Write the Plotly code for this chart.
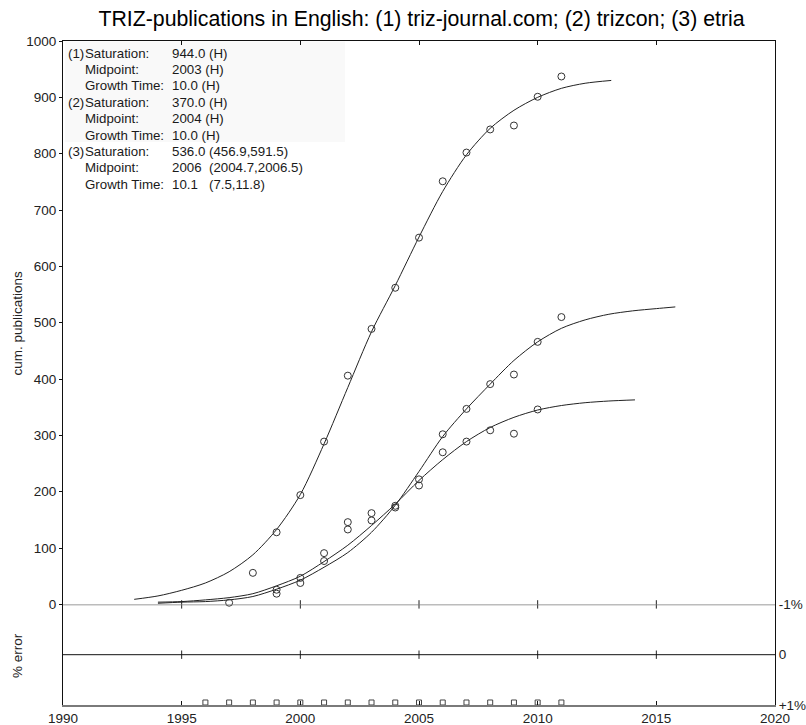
import plotly.graph_objects as go

# ---------------- data ----------------
# observed cumulative publications
s1_years = [1998, 1999, 2000, 2001, 2002, 2003, 2004, 2005, 2006, 2007, 2008, 2009, 2010, 2011]
s1_vals = [56, 128, 194, 289, 406, 489, 562, 651, 751, 802, 843, 850, 901, 937]

s2_years = [1997, 1999, 2000, 2001, 2002, 2003, 2004, 2005, 2006, 2007, 2008, 2009, 2010]
s2_vals = [3, 19, 38, 77, 133, 149, 172, 211, 270, 289, 309, 303, 346]

s3_years = [1999, 2000, 2001, 2002, 2003, 2004, 2005, 2006, 2007, 2008, 2009, 2010, 2011]
s3_vals = [26, 47, 91, 146, 162, 175, 222, 302, 347, 391, 408, 466, 510]

# fitted curves
c1_years = [1993, 1994, 1995, 1996, 1997, 1998, 1999, 2000, 2001, 2002, 2003, 2004,
            2005, 2006, 2007, 2008, 2009, 2010, 2011, 2012, 2013.1]
c1_vals = [9, 15, 25, 38, 58, 88, 133, 195, 285, 385, 484, 566, 652, 733, 798, 845,
           877, 900, 916, 925, 930]

c2_years = [1994, 1995, 1996, 1997, 1998, 1999, 2000, 2001, 2002, 2003, 2004, 2005,
            2006, 2007, 2008, 2009, 2010, 2011, 2012, 2013, 2014.1]
c2_vals = [4, 5, 8, 12, 19, 33, 50, 76, 105, 140, 178, 220, 257, 289, 314, 332, 345,
           353, 358, 361, 363]

c3_years = [1994, 1995, 1996, 1997, 1998, 1999, 2000, 2001, 2002, 2003, 2004, 2005,
            2006, 2007, 2008, 2009, 2010, 2011, 2012, 2013, 2014, 2015, 2015.8]
c3_vals = [2, 4, 5, 8, 14, 27, 43, 66, 92, 128, 176, 236, 298, 347, 391, 433, 466,
           490, 505, 515, 521, 525, 528]

# % error markers (all at the +1% edge)
err_years = list(range(1996, 2012))
err_vals = [0.95] * len(err_years)

x_ticks = [1990, 1995, 2000, 2005, 2010, 2015, 2020]
y_ticks = [0, 100, 200, 300, 400, 500, 600, 700, 800, 900, 1000]
err_ticks = [-1, 0, 1]
err_ticktext = ["-1%", "0", "+1%"]

info_labels = ["Saturation:", "Midpoint:", "Growth Time:"] * 3
info_values = ["944.0 (H)", "2003 (H)", "10.0 (H)",
               "370.0 (H)", "2004 (H)", "10.0 (H)",
               "536.0 (456.9,591.5)", "2006  (2004.7,2006.5)", "10.1   (7.5,11.8)"]
info_ids = ["(1)", "(2)", "(3)"]

title = "TRIZ-publications in English: (1) triz-journal.com; (2) trizcon; (3) etria"

# ---------------- layout geometry ----------------
W, H = 806, 725
L, R, T, B = 63, 775, 41, 705
Y0 = 604.4  # pixel of split between panels
FONT = "Liberation Sans, Arial, sans-serif"


def px_x(px):
    return (px - L) / (R - L)


def px_y(py):
    return (B - py) / (B - T)


split = px_y(Y0)

fig = go.Figure()

line_col = "#222222"
mk = dict(symbol="circle-open", size=7, color="#333333", line=dict(width=1, color="#333333"))

for xs, ys in [(c1_years, c1_vals), (c2_years, c2_vals), (c3_years, c3_vals)]:
    fig.add_trace(go.Scatter(x=xs, y=ys, mode="lines", xaxis="x", yaxis="y",
                             line=dict(color=line_col, width=1, shape="spline", smoothing=0.8),
                             showlegend=False, hoverinfo="skip"))

for xs, ys in [(s1_years, s1_vals), (s2_years, s2_vals), (s3_years, s3_vals)]:
    fig.add_trace(go.Scatter(x=xs, y=ys, mode="markers", xaxis="x", yaxis="y",
                             marker=mk, showlegend=False, cliponaxis=False))

# error panel markers
fig.add_trace(go.Scatter(x=err_years, y=err_vals, mode="markers", xaxis="x2", yaxis="y2",
                         marker=dict(symbol="square-open", size=5, color="#444444",
                                     line=dict(width=1, color="#444444")),
                         showlegend=False, cliponaxis=False))

# tick marks crossing the -1% and 0 lines
inner_ticks = [t for t in x_ticks if 1990 < t < 2020]
for lvl in [-1, 0]:
    fig.add_trace(go.Scatter(x=inner_ticks, y=[lvl] * len(inner_ticks), mode="markers",
                             xaxis="x2", yaxis="y2",
                             marker=dict(symbol="line-ns", size=6,
                                         line=dict(width=1, color="#222222")),
                             showlegend=False, cliponaxis=False, hoverinfo="skip"))

shapes = [
    dict(type="rect", xref="paper", yref="paper", x0=px_x(65), x1=px_x(345),
         y0=px_y(142), y1=px_y(41.5), fillcolor="#f9f9f9", line=dict(width=0), layer="below"),
    dict(type="line", xref="paper", yref="y2", x0=0, x1=1, y0=0, y1=0,
         line=dict(color="#111111", width=1)),
    dict(type="line", xref="paper", yref="y2", x0=0, x1=1, y0=-1, y1=-1,
         line=dict(color="#7a7a7a", width=1.6)),
]

annotations = []
row_y0 = 53.3
row_dy = 16.35
for i in range(9):
    py = row_y0 + i * row_dy
    if i % 3 == 0:
        annotations.append(dict(text=info_ids[i // 3], x=px_x(66), y=px_y(py), xref="paper",
                                yref="paper", xanchor="left", yanchor="middle", showarrow=False,
                                font=dict(family=FONT, size=13.3, color="#1a1a1a")))
    annotations.append(dict(text=info_labels[i], x=px_x(83), y=px_y(py), xref="paper",
                            yref="paper", xanchor="left", yanchor="middle", showarrow=False,
                            font=dict(family=FONT, size=13.3, color="#1a1a1a")))
    annotations.append(dict(text=info_values[i], x=px_x(169.5), y=px_y(py), xref="paper",
                            yref="paper", xanchor="left", yanchor="middle", showarrow=False,
                            font=dict(family=FONT, size=13.3, color="#1a1a1a")))

annotations.append(dict(text="cum. publications", textangle=-90, x=px_x(17), y=px_y(322.5),
                        xref="paper", yref="paper", xanchor="center", yanchor="middle",
                        showarrow=False, font=dict(family=FONT, size=13.5, color="#222222")))
annotations.append(dict(text="% error", textangle=-90, x=px_x(17), y=px_y(655),
                        xref="paper", yref="paper", xanchor="center", yanchor="middle",
                        showarrow=False, font=dict(family=FONT, size=13.5, color="#222222")))

tickfont = dict(family=FONT, size=13.5, color="#222222")

fig.update_layout(
    width=W, height=H,
    margin=dict(l=L, r=W - R, t=T, b=H - B, pad=0),
    paper_bgcolor="white", plot_bgcolor="white",
    title=dict(text=title, x=px_x(421.5), xref="paper", y=1 - 18.5 / H,
               yref="container", xanchor="center", yanchor="middle",
               font=dict(family=FONT, size=21.3, color="#000000")),
    xaxis=dict(domain=[0, 1], anchor="y", side="top", range=[1990, 2020],
               tickvals=x_ticks, showticklabels=False, ticks="inside", ticklen=4,
               tickcolor="#111111", showline=True, linecolor="#111111", linewidth=1,
               showgrid=False, zeroline=False),
    xaxis2=dict(domain=[0, 1], anchor="y2", side="bottom", range=[1990, 2020],
                tickvals=x_ticks, ticks="inside", ticklen=4, tickcolor="#111111",
                showline=True, linecolor="#7a7a7a", linewidth=1.6, mirror=False,
                showgrid=False, zeroline=False, tickfont=tickfont, automargin=False),
    yaxis=dict(domain=[split, 1], anchor="x", range=[0, 1000], tickvals=y_ticks,
               ticks="outside", ticklen=3, tickcolor="#111111", showline=True,
               linecolor="#111111", linewidth=1, mirror=True, showgrid=False,
               zeroline=False, tickfont=tickfont, automargin=False),
    yaxis2=dict(domain=[0, split], anchor="x2", side="right", range=[1, -1],
                tickvals=err_ticks, ticktext=err_ticktext, ticks="", showline=True,
                linecolor="#111111", linewidth=1, mirror=True, showgrid=False,
                zeroline=False, tickfont=tickfont, automargin=False),
    shapes=shapes,
    annotations=annotations,
)

fig.write_html("out.html")
